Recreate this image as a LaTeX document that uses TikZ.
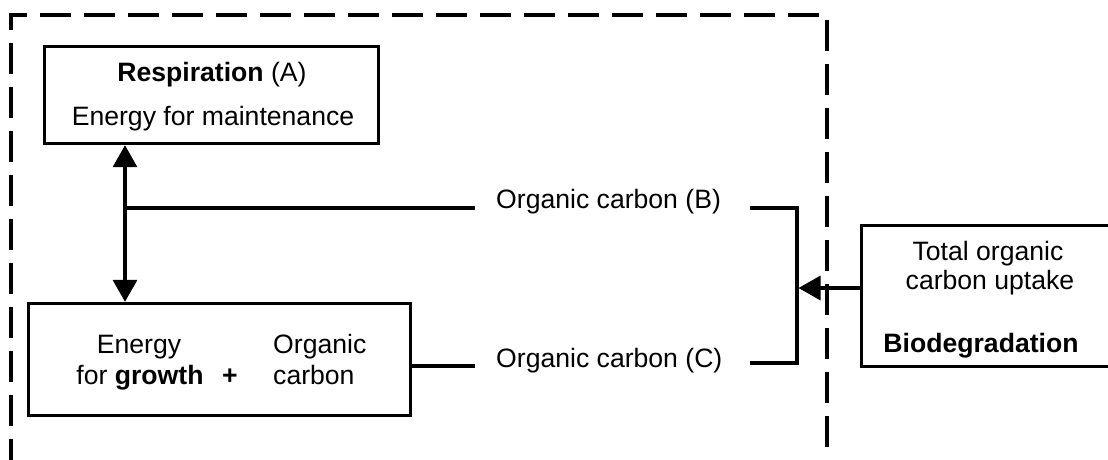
\documentclass[tikz,border=0pt]{standalone}
\usepackage{fontspec}
\setmainfont{Liberation Sans}
\usetikzlibrary{arrows.meta}
\begin{document}
\begin{tikzpicture}[x=1pt,y=-1pt,
  font=\fontsize{26.6pt}{32pt}\selectfont,
  box/.style={draw,line width=3.4pt,inner sep=0pt},
  lbl/.style={inner sep=0pt,anchor=base},
  lblw/.style={inner sep=0pt,anchor=base west},
  link/.style={line width=3.4pt},
  tri/.tip={Triangle[length=22pt,width=24pt]}]
  \clip (0,0) rectangle (1108,459);

  % system boundary (open at the bottom)
  \draw[line width=3.2pt,dash pattern=on 31pt off 13pt] (11,470) -- (11,15) -- (827,15) -- (827,470);

  % boxes
  \node[box,minimum width=334pt,minimum height=97pt] (resp) at (211.5,95) {};
  \node[box,minimum width=382pt,minimum height=112pt] (growth) at (219.5,359.5) {};
  \node[box,minimum width=270pt,minimum height=141pt] (total) at (996.5,296) {};

  % texts of the respiration box
  \node[lbl] (respA) at (212,81) {\textbf{Respiration} (A)};
  \node[lbl] (respE) at (213,125) {Energy for maintenance};

  % texts of the growth box
  \node[lbl] (gE) at (139,353) {Energy};
  \node[lbl] (gG) at (140,384) {for \textbf{growth}};
  \node[lbl] (gP) at (230,384) {\textbf{+}};
  \node[lblw] (gO) at (273,353) {Organic};
  \node[lblw] (gC) at (273,384) {carbon};

  % texts of the uptake box
  \node[lbl] (tT) at (988,260) {Total organic};
  \node[lbl] (tC) at (990,289) {carbon uptake};
  \node[lbl] (tB) at (981,352) {\textbf{Biodegradation}};

  % flow labels
  \node[lblw] (labB) at (496,208) {Organic carbon (B)};
  \node[lblw] (labC) at (496,367) {Organic carbon (C)};

  % junction points of the connectors
  \coordinate (vx) at (125,0);
  \coordinate (jB) at (125,208);
  \coordinate (bL) at (475,208);
  \coordinate (bR) at (750,208);
  \coordinate (kB) at (797,208);
  \coordinate (cL) at (475,366);
  \coordinate (cR) at (750,363);
  \coordinate (kC) at (797,363);
  \coordinate (inY) at (0,288);
  \coordinate (inTip) at (798.5,288);

  % connectors
  \draw[link,tri-tri] (resp.south -| vx) -- (growth.north -| vx);
  \draw[link] (jB) -- (bL);
  \draw[link] (growth.east |- cL) -- (cL);
  \draw[link] (bR) -- (kB) -- (kC) -- (cR);
  \draw[link,-tri] (total.west |- inY) -- (inTip);
\end{tikzpicture}
\end{document}
